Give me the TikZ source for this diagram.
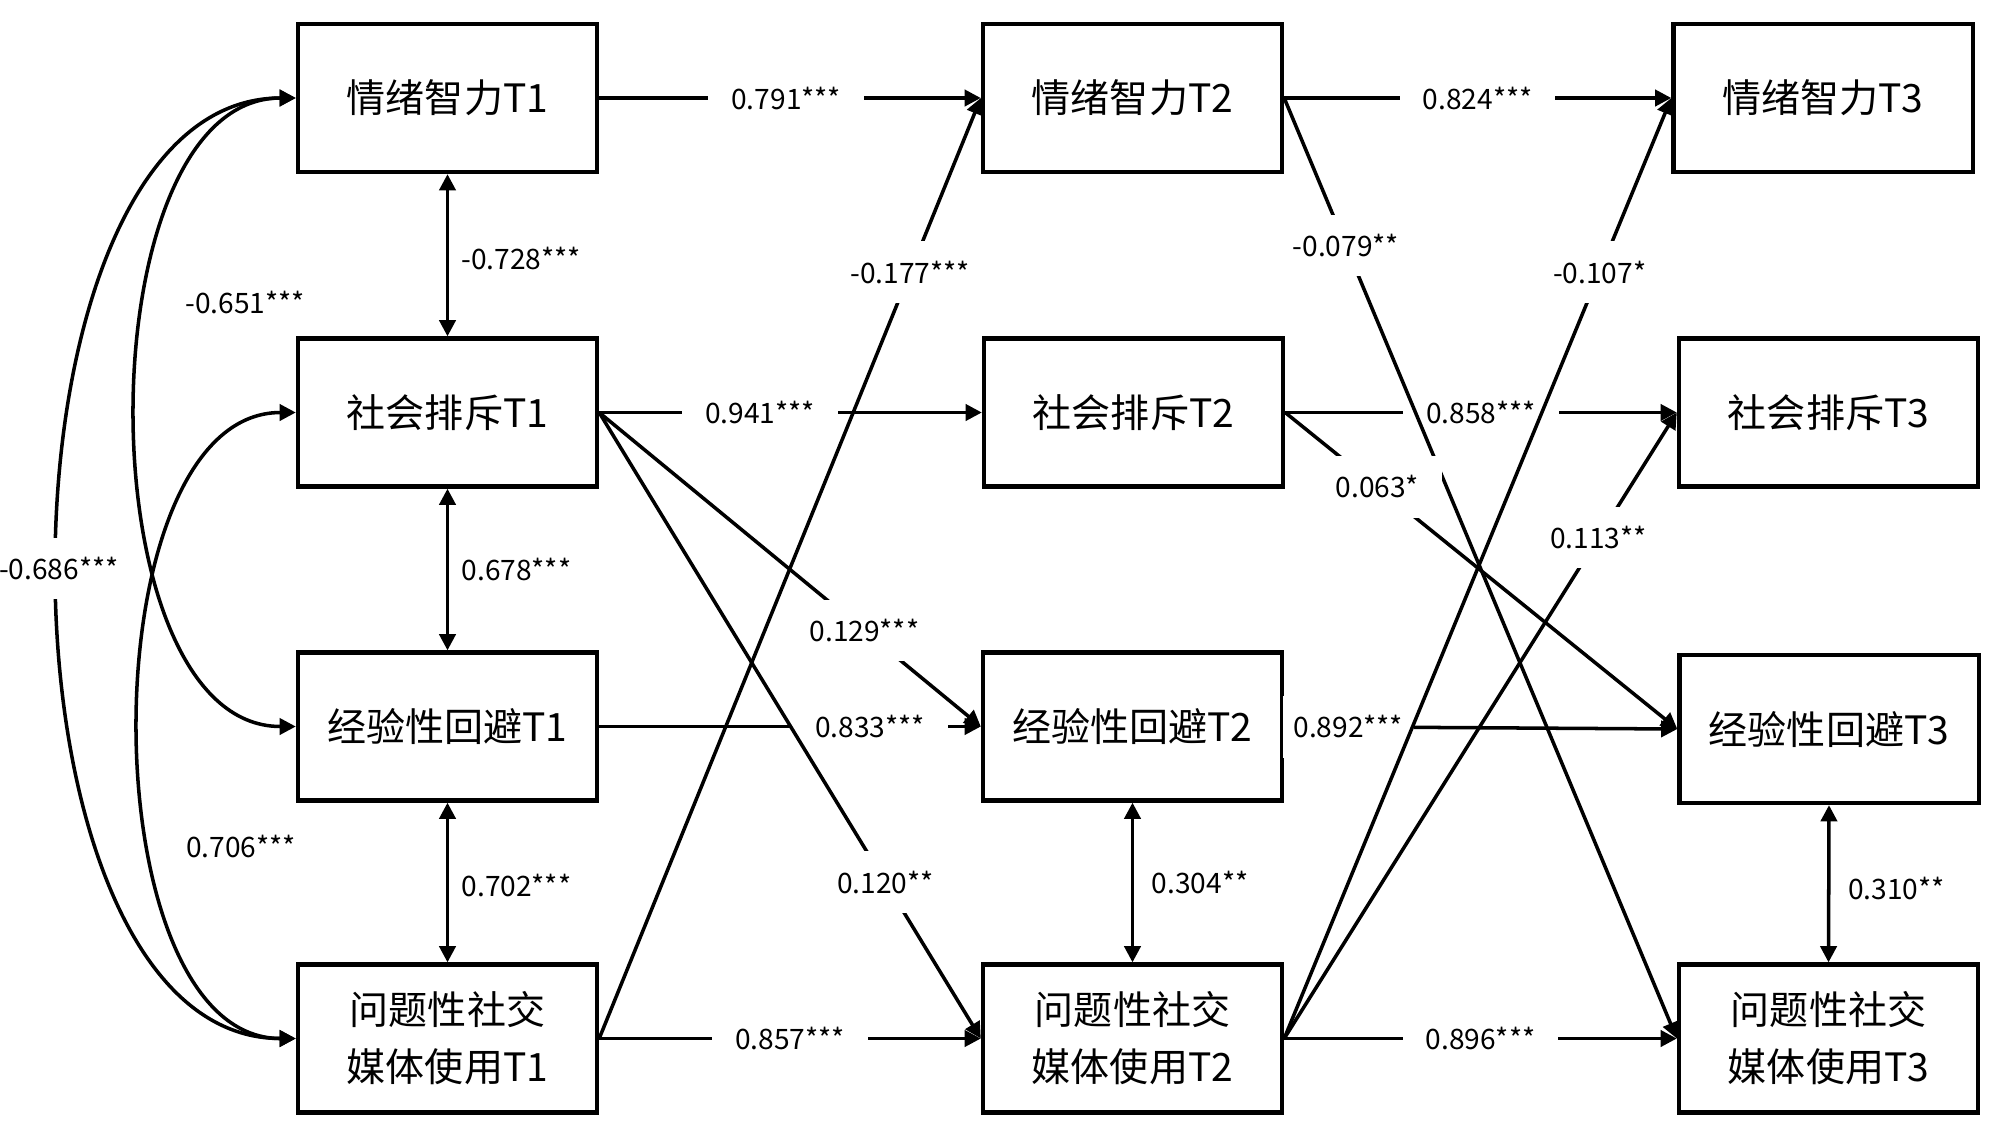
\documentclass[tikz,border=0pt]{standalone}
\usepackage{fontspec}
\setmainfont{Noto Sans CJK SC}
\usetikzlibrary{arrows.meta}
\newcommand{\boxfont}{\fontsize{11.1pt}{16.2pt}\selectfont}
\newcommand{\lblfont}{\fontsize{8pt}{9pt}\selectfont}
\begin{document}
\begin{tikzpicture}[x=0.01cm,y=-0.01cm,
  box/.style={draw, line width=1.2pt, minimum width=2.99cm, minimum height=1.48cm, inner sep=0pt, align=center, font=\boxfont},
  conn/.style={line width=1pt, -{Triangle[length=4.6pt,width=4.6pt]}},
  dconn/.style={line width=1pt, {Triangle[length=4.6pt,width=4.6pt]}-{Triangle[length=4.6pt,width=4.6pt]}},
  lbl/.style={fill=white, inner xsep=6.5pt, inner ysep=5.5pt, font=\lblfont},
  vlbl/.style={right, inner sep=0pt, font=\lblfont},
  tlbl/.style={inner sep=0pt, font=\lblfont}]
\useasboundingbox (0,0) rectangle (2000,1136);

% boxes
\node[box] (EI1) at (447.5,98) {情绪智力T1};
\node[box] (SE1) at (447.5,412.5) {社会排斥T1};
\node[box] (EA1) at (447.5,726.5) {经验性回避T1};
\node[box] (PS1) at (447.5,1038.5) {问题性社交\\媒体使用T1};

\node[box] (EI2) at (1132.5,98) {情绪智力T2};
\node[box] (SE2) at (1133.5,412.5) {社会排斥T2};
\node[box] (EA2) at (1132.5,726.5) {经验性回避T2};
\node[box] (PS2) at (1132.5,1038.5) {问题性社交\\媒体使用T2};

\node[box] (EI3) at (1823,98) {情绪智力T3};
\node[box] (SE3) at (1828.5,412.5) {社会排斥T3};
\node[box] (EA3) at (1829,729) {经验性回避T3};
\node[box] (PS3) at (1828.5,1038.5) {问题性社交\\媒体使用T3};

% autoregressive paths
\draw[conn] (EI1.east) -- (EI2.west) node[lbl,pos=0.49]{0.791***};
\draw[conn] (EI2.east) -- (EI3.west) node[lbl,pos=0.50]{0.824***};
\draw[conn] (SE1.east) -- (SE2.west) node[lbl,pos=0.42]{0.941***};
\draw[conn] (SE2.east) -- (SE3.west) node[lbl,pos=0.50]{0.858***};
\draw[conn] (EA1.east) -- (EA2.west) node[lbl,pos=0.71]{0.833***};
\draw[conn] (EA2.east) -- (EA3.west) node[lbl,pos=0.163,inner xsep=3pt]{0.892***};
\draw[conn] (PS1.east) -- (PS2.west) node[lbl,pos=0.50]{0.857***};
\draw[conn] (PS2.east) -- (PS3.west) node[lbl,pos=0.50]{0.896***};

% within-time correlations
\draw[dconn] (EI1.south) -- (SE1.north) node[vlbl,pos=0.52,xshift=3.5pt]{-0.728***};
\draw[dconn] (SE1.south) -- (EA1.north) node[vlbl,pos=0.5,xshift=3.5pt]{0.678***};
\draw[dconn] (EA1.south) -- (PS1.north) node[vlbl,pos=0.52,xshift=3.5pt]{0.702***};
\draw[dconn] (EA2.south) -- (PS2.north) node[vlbl,pos=0.5,xshift=5pt]{0.304**};
\draw[dconn] (EA3.south) -- (PS3.north) node[vlbl,pos=0.53,xshift=5pt]{0.310**};

% curved correlations at T1
\draw[dconn] (EI1.west) .. controls +(-212,0) and +(-212,0) .. (EA1.west);
\node[tlbl] (l651) at (245,302) {-0.651***};
\draw[dconn] (SE1.west) .. controls +(-208,0) and +(-208,0) .. (PS1.west);
\node[tlbl] (l706) at (241,846) {0.706***};
\draw[dconn] (EI1.west) .. controls +(-316,0) and +(-316,0) .. (PS1.west) node[lbl,pos=0.5]{-0.686***};

% cross-lagged paths
\draw[conn] (PS1.east) -- (EI2.west) node[lbl,pos=0.815]{-0.177***};
\draw[conn] (SE1.east) -- (EA2.west) node[lbl,pos=0.695]{0.129***};
\draw[conn] (SE1.east) -- (PS2.west) node[lbl,pos=0.75]{0.120**};
\draw[conn] (EI2.east) -- (PS3.west) node[lbl,pos=0.157]{-0.079**};
\draw[conn] (SE2.east) -- (EA3.west) node[lbl,pos=0.235]{0.063*};
\draw[conn] (PS2.east) -- (EI3.west) node[lbl,pos=0.815]{-0.107*};
\draw[conn] (PS2.east) -- (SE3.west) node[lbl,pos=0.80]{0.113**};
\end{tikzpicture}
\end{document}
